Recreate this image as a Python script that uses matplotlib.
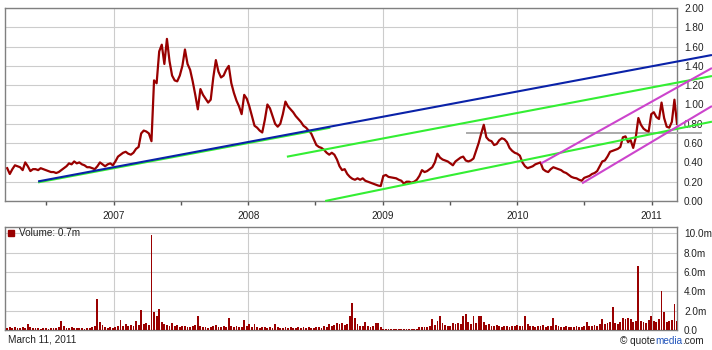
import numpy as np
import matplotlib
matplotlib.use('Agg')
import matplotlib.pyplot as plt
import matplotlib.dates as mdates
from matplotlib.patches import Rectangle
import pandas as pd

plt.rcParams['font.family'] = ['Liberation Sans', 'DejaVu Sans']

# weekly closes (week ending Friday)
start_week = '2006-03-17'
prices = [
    0.34, 0.28, 0.33, 0.37, 0.36, 0.35, 0.32, 0.40, 0.36, 0.31,
    0.33, 0.33, 0.32, 0.34, 0.33, 0.32, 0.31, 0.30, 0.30, 0.29,
    0.30, 0.32, 0.34, 0.36, 0.39, 0.38, 0.41, 0.39, 0.40, 0.38,
    0.37, 0.35, 0.35, 0.34, 0.33, 0.36, 0.40, 0.38, 0.36, 0.38,
    0.39, 0.37, 0.41, 0.46, 0.48, 0.50, 0.51, 0.49, 0.48, 0.50,
    0.54, 0.56, 0.70, 0.73, 0.72, 0.70, 0.62, 1.25, 1.22, 1.55,
    1.62, 1.42, 1.68, 1.45, 1.30, 1.25, 1.24, 1.30, 1.40, 1.57,
    1.42, 1.36, 1.24, 1.10, 0.95, 1.16, 1.10, 1.06, 1.02, 1.05,
    1.28, 1.46, 1.34, 1.28, 1.30, 1.36, 1.40, 1.22, 1.12, 1.04,
    0.98, 0.90, 1.10, 1.06, 0.98, 0.88, 0.78, 0.76, 0.73, 0.71,
    0.84, 1.00, 0.96, 0.88, 0.80, 0.77, 0.80, 0.90, 1.03, 0.98,
    0.95, 0.92, 0.88, 0.85, 0.82, 0.78, 0.76, 0.73, 0.70, 0.64,
    0.58, 0.56, 0.55, 0.53, 0.50, 0.48, 0.50, 0.48, 0.43, 0.36,
    0.32, 0.33, 0.28, 0.25, 0.23, 0.22, 0.235, 0.22, 0.235, 0.21,
    0.20, 0.19, 0.18, 0.17, 0.16, 0.155, 0.26, 0.27, 0.25, 0.245,
    0.24, 0.235, 0.22, 0.21, 0.18, 0.20, 0.20, 0.19, 0.20, 0.22,
    0.26, 0.32, 0.30, 0.31, 0.33, 0.35, 0.40, 0.49, 0.45, 0.43,
    0.42, 0.41, 0.39, 0.37, 0.41, 0.43, 0.45, 0.46, 0.42, 0.41,
    0.42, 0.44, 0.52, 0.60, 0.70, 0.79, 0.66, 0.63, 0.62, 0.58,
    0.59, 0.63, 0.65, 0.64, 0.61, 0.55, 0.52, 0.50, 0.49, 0.47,
    0.40, 0.36, 0.34, 0.35, 0.36, 0.38, 0.39, 0.40, 0.33, 0.31,
    0.30, 0.33, 0.35, 0.34, 0.33, 0.32, 0.30, 0.29, 0.27, 0.25,
    0.24, 0.235, 0.22, 0.21, 0.24, 0.25, 0.26, 0.28, 0.29, 0.31,
    0.36, 0.41, 0.42, 0.46, 0.51, 0.52, 0.53, 0.54, 0.56, 0.66,
    0.67, 0.61, 0.63, 0.55, 0.66, 0.86, 0.79, 0.75, 0.73, 0.72,
    0.90, 0.92, 0.87, 0.85, 1.02, 0.86, 0.77, 0.76, 0.82, 1.05,
    0.80,
]

# weekly peak volume in millions
volumes = [
    0.25, 0.30, 0.20, 0.35, 0.25, 0.20, 0.30, 0.25, 0.60, 0.30,
    0.20, 0.25, 0.20, 0.15, 0.25, 0.20, 0.15, 0.20, 0.25, 0.20,
    0.30, 0.90, 0.40, 0.25, 0.20, 0.30, 0.25, 0.20, 0.25, 0.20,
    0.15, 0.25, 0.20, 0.30, 0.45, 3.20, 0.80, 0.50, 0.30, 0.25,
    0.30, 0.25, 0.35, 0.40, 1.00, 0.45, 0.60, 0.40, 0.50, 0.45,
    0.90, 0.55, 2.10, 0.60, 0.70, 0.50, 9.80, 1.90, 1.40, 2.20,
    0.80, 0.60, 0.50, 0.45, 0.70, 0.40, 0.50, 0.35, 0.40, 0.45,
    0.35, 0.30, 0.40, 0.50, 1.50, 0.45, 0.30, 0.35, 0.25, 0.30,
    0.40, 0.55, 0.30, 0.35, 0.40, 0.30, 1.20, 0.40, 0.35, 0.45,
    0.30, 0.35, 1.00, 0.40, 0.60, 0.30, 0.60, 0.35, 0.25, 0.30,
    0.35, 0.25, 0.30, 0.25, 0.60, 0.30, 0.25, 0.20, 0.30, 0.25,
    0.35, 0.20, 0.25, 0.30, 0.20, 0.35, 0.25, 0.30, 0.20, 0.25,
    0.30, 0.35, 0.25, 0.40, 0.30, 0.60, 0.45, 0.50, 0.70, 0.65,
    0.70, 0.55, 0.60, 1.40, 2.80, 1.20, 0.60, 0.45, 0.40, 0.80,
    0.40, 0.35, 0.45, 0.70, 0.70, 0.35, 0.15, 0.15, 0.12, 0.15,
    0.12, 0.15, 0.12, 0.10, 0.15, 0.12, 0.15, 0.12, 0.15, 0.15,
    0.35, 0.30, 0.35, 0.30, 0.45, 1.10, 0.50, 0.90, 1.50, 0.70,
    0.50, 0.40, 0.45, 0.70, 0.60, 0.70, 0.65, 1.40, 1.65, 0.80,
    0.60, 1.40, 0.70, 1.40, 1.50, 0.80, 0.50, 0.60, 0.45, 0.40,
    0.55, 0.40, 0.35, 0.45, 0.40, 0.35, 0.45, 0.40, 0.50, 0.45,
    0.40, 1.40, 0.60, 0.45, 0.40, 0.35, 0.45, 0.40, 0.50, 0.35,
    0.40, 0.45, 1.20, 0.50, 0.40, 0.35, 0.30, 0.40, 0.35, 0.30,
    0.35, 0.40, 0.30, 0.35, 0.40, 0.80, 0.45, 0.40, 0.50, 0.45,
    0.60, 1.10, 0.60, 0.70, 0.80, 2.40, 0.70, 0.60, 0.80, 1.20,
    1.10, 1.20, 1.10, 0.80, 0.90, 6.60, 0.90, 0.80, 0.70, 1.00,
    1.50, 0.90, 0.80, 1.10, 4.00, 1.90, 0.80, 0.90, 1.00, 2.70,
    0.90,
]

# drawn trend lines: (start date, start price, end date, end price, colour)
trend_lines = [
    ('2006-06-09', 0.193, '2008-08-11', 0.760, '#33ee33'),
    ('2006-06-09', 0.203, '2011-06-14', 1.513, '#0a22a8'),
    ('2008-04-15', 0.459, '2011-06-14', 1.295, '#33ee33'),
    ('2008-07-28', 0.000, '2011-06-14', 0.822, '#33ee33'),
    ('2010-03-07', 0.390, '2011-06-14', 1.378, '#cc44cc'),
    ('2010-06-26', 0.183, '2011-06-14', 0.984, '#cc44cc'),
]
support_level = 0.708
support_span = ('2009-08-17', '2011-05-15')

dates = pd.date_range(start_week, periods=len(prices), freq='W-FRI')
x_start = pd.Timestamp('2006-03-11')
x_end = pd.Timestamp('2011-03-11')

price_col = '#990000'
grid_col = '#cccccc'
spine_col = '#808080'
text_col = '#222222'
fs = 7.2

W, H = 712, 350
fig = plt.figure(figsize=(W / 100, H / 100), dpi=100)
ax = fig.add_axes([5 / W, 1 - 201 / H, 672 / W, 193 / H])
axv = fig.add_axes([5 / W, 1 - 330 / H, 672 / W, 103.3 / H])

# price panel
ax.plot(dates, prices, color=price_col, lw=1.6, zorder=4)
for d0, p0, d1, p1, c in trend_lines:
    ax.plot([pd.Timestamp(d0), pd.Timestamp(d1)], [p0, p1], color=c, lw=1.5,
            clip_on=False, zorder=5, solid_capstyle='butt')
ax.plot([pd.Timestamp(support_span[0]), pd.Timestamp(support_span[1])],
        [support_level, support_level], color='#aaaaaa', lw=1.4,
        clip_on=False, zorder=3)

ax.set_ylim(0, 2.0)
ax.set_yticks(np.arange(0, 2.01, 0.2))
ax.set_yticklabels(['%.2f' % v for v in np.arange(0, 2.01, 0.2)])

# volume panel
axv.bar(dates, volumes, width=5.0, color=price_col, linewidth=0, zorder=3)
axv.set_ylim(0, 10.7)
axv.set_yticks([0, 2, 4, 6, 8, 10])
axv.set_yticklabels(['0.0', '2.0m', '4.0m', '6.0m', '8.0m', '10.0m'])

for a in (ax, axv):
    a.set_xlim(x_start, x_end)
    a.xaxis.set_major_locator(mdates.YearLocator())
    a.xaxis.set_minor_locator(mdates.MonthLocator(bymonth=7))
    a.xaxis.set_major_formatter(mdates.DateFormatter('%Y'))
    a.yaxis.tick_right()
    a.tick_params(axis='y', length=0, pad=5, labelsize=fs, colors=text_col)
    a.grid(True, which='major', color=grid_col, lw=0.8, zorder=0)
    a.set_axisbelow(True)
    for s in a.spines.values():
        s.set_color(spine_col)
        s.set_linewidth(1.0)

ax.tick_params(axis='x', which='both', direction='out', length=3, width=1,
               color='#555555', labelsize=fs, pad=4, labelcolor=text_col)
axv.tick_params(axis='x', which='both', length=0, labelbottom=False)

# legend of the volume panel
fig.add_artist(Rectangle((8 / W, 1 - 236 / H), 6 / W, 6 / H, color=price_col))
fig.text(19 / W, 1 - 233 / H, 'Volume: 0.7m', fontsize=fs, va='center',
         ha='left', color=text_col)

fig.text(8 / W, 1 - 340 / H, 'March 11, 2011', fontsize=fs, va='center',
         ha='left', color=text_col)

# credit line, right aligned at the image edge
r = fig.canvas.get_renderer()
parts = [('\u00a9 quote', text_col), ('media', '#2255bb'), ('.com', text_col)]
texts = [fig.text(0, 1 - 341 / H, s, color=c, fontsize=fs, va='center', ha='left')
         for s, c in parts]
widths = [t.get_window_extent(r).width for t in texts]
x0 = 704 - sum(widths)
for t, w in zip(texts, widths):
    t.set_x(x0 / W)
    x0 += w

fig.savefig('out.png', dpi=100)
